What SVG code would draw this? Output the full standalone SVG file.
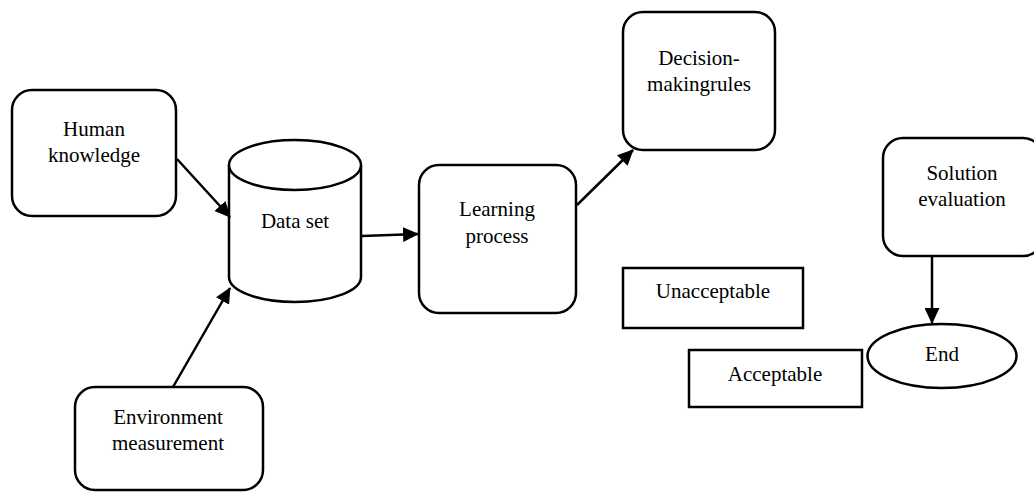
<svg xmlns="http://www.w3.org/2000/svg" width="1034" height="492" viewBox="0 0 1034 492">
<style>
.box{fill:#fff;stroke:#000;stroke-width:2.5}
.lbl{font-family:"Liberation Serif","Times New Roman",serif;font-size:21px;fill:#000;text-anchor:middle}
.conn{stroke:#000;stroke-width:2.5;fill:none;marker-end:url(#arr)}
</style>
<defs>
<marker id="arr" markerWidth="16" markerHeight="15" refX="15" refY="7.5" orient="auto" markerUnits="userSpaceOnUse">
<path d="M0,0 L16,7.5 L0,15 Z" fill="#000"/>
</marker>
</defs>
<rect width="1034" height="492" fill="#fff"/>
<g id="human">
<rect class="box" x="12" y="90" width="164" height="126" rx="20"/>
<text class="lbl" x="94" y="136">Human</text>
<text class="lbl" x="94" y="162">knowledge</text>
</g>
<g id="dataset">
<path class="box" d="M229,165 A66,25 0 0,1 361,165 L361,277 A66,25 0 0,1 229,277 Z"/>
<path class="box" d="M229,165 A66,25 0 0,0 361,165"/>
<text class="lbl" x="295" y="228">Data set</text>
</g>
<g id="env">
<rect class="box" x="75" y="387" width="188" height="103" rx="20"/>
<text class="lbl" x="168" y="424">Environment</text>
<text class="lbl" x="168" y="450">measurement</text>
</g>
<g id="learning">
<rect class="box" x="419" y="165" width="157" height="148" rx="20"/>
<text class="lbl" x="497" y="216">Learning</text>
<text class="lbl" x="497" y="243">process</text>
</g>
<g id="decision">
<rect class="box" x="623" y="12" width="152" height="138" rx="20"/>
<text class="lbl" x="699" y="65">Decision-</text>
<text class="lbl" x="699" y="91">makingrules</text>
</g>
<g id="solution">
<rect class="box" x="883" y="138" width="160" height="118" rx="20"/>
<text class="lbl" x="962" y="180">Solution</text>
<text class="lbl" x="962" y="206">evaluation</text>
</g>
<g id="unacceptable">
<rect class="box" x="623" y="268" width="180" height="60"/>
<text class="lbl" x="713" y="298">Unacceptable</text>
</g>
<g id="acceptable">
<rect class="box" x="689" y="350" width="173" height="57"/>
<text class="lbl" x="775" y="381">Acceptable</text>
</g>
<g id="end">
<ellipse class="box" cx="942" cy="356" rx="74.5" ry="32"/>
<text class="lbl" x="942" y="361">End</text>
</g>
<g id="connectors">
<line class="conn" x1="177" y1="159" x2="230" y2="217"/>
<line class="conn" x1="173" y1="387" x2="230" y2="288"/>
<line class="conn" x1="362" y1="236" x2="418" y2="234"/>
<line class="conn" x1="577" y1="205" x2="633" y2="150"/>
<line class="conn" x1="932" y1="256" x2="932" y2="323"/>
</g>
</svg>
